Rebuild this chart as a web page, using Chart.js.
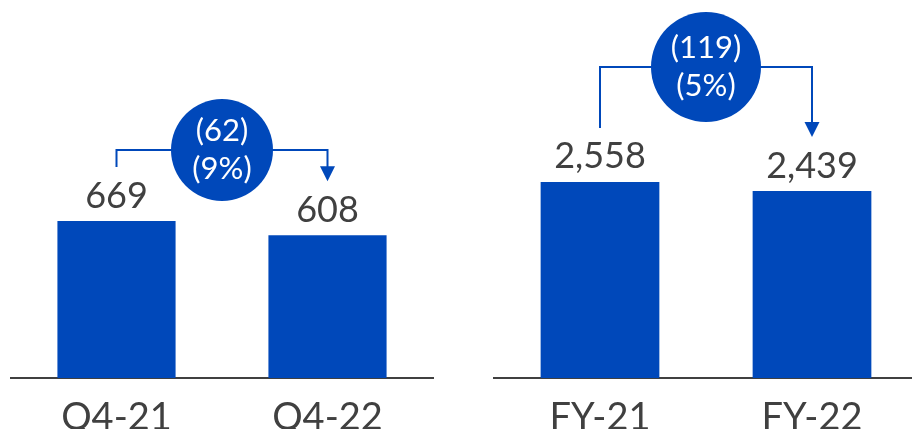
<!DOCTYPE html>
<html>
<head>
<meta charset="utf-8">
<script src="https://cdn.jsdelivr.net/npm/chart.js@4.4.1/dist/chart.umd.min.js"></script>
<style>
  html, body { margin: 0; padding: 0; background: #fff; }
  body { width: 912px; height: 429px; overflow: hidden; position: relative; }
  #quarter { position: absolute; left: 0; top: 0; }
  #year { position: absolute; left: 456px; top: 0; }
</style>
</head>
<body>
<canvas id="quarter" width="456" height="429"></canvas>
<canvas id="year" width="462" height="429"></canvas>
<script>
const quarterLabels = ['Q4-21', 'Q4-22'];
const quarterValues = [669, 608];
const quarterChange = ['(62)', '(9%)'];

const yearLabels = ['FY-21', 'FY-22'];
const yearValues = [2558, 2439];
const yearChange = ['(119)', '(5%)'];

const BLUE = '#0048BA';
const INK = '#404040';
const FONT = 'Lato, "Noto Sans", sans-serif';

// value labels over the bars, plus the bracket / arrow / bubble showing the change
const changeBubble = {
    id: 'changeBubble',
    afterDatasetsDraw(chart, args, opts) {
        const ctx = chart.ctx;
        const bars = chart.getDatasetMeta(0).data;
        const vals = chart.data.datasets[0].data;
        ctx.save();

        ctx.font = '36px ' + FONT;
        ctx.fillStyle = INK;
        ctx.textAlign = 'center';
        ctx.textBaseline = 'alphabetic';
        bars.forEach((b, i) => ctx.fillText(vals[i].toLocaleString('en-US'), b.x, b.y - 13.5));

        const x0 = bars[0].x, x1 = bars[1].x, y = opts.y;
        const start = bars[0].y - 54;
        const tip = bars[1].y - 54;

        ctx.strokeStyle = BLUE;
        ctx.lineWidth = 2;
        ctx.beginPath();
        ctx.moveTo(x0, start);
        ctx.lineTo(x0, y);
        ctx.lineTo(x1, y);
        ctx.lineTo(x1, tip - 14);
        ctx.stroke();

        ctx.fillStyle = BLUE;
        ctx.beginPath();
        ctx.moveTo(x1 - 7.5, tip - 15);
        ctx.lineTo(x1 + 7.5, tip - 15);
        ctx.lineTo(x1, tip);
        ctx.closePath();
        ctx.fill();

        const cx = (x0 + x1) / 2;
        ctx.beginPath();
        ctx.arc(cx, y, opts.r, 0, Math.PI * 2);
        ctx.fill();

        ctx.fillStyle = '#fff';
        ctx.font = '31px ' + FONT;
        ctx.textBaseline = 'middle';
        ctx.fillText(opts.lines[0], cx, y - 19);
        ctx.fillText(opts.lines[1], cx, y + 19);
        ctx.restore();
    }
};

function makeChart(id, labels, values, yMax, padLeft, padRight, bubble) {
    return new Chart(document.getElementById(id), {
        type: 'bar',
        data: {
            labels: labels,
            datasets: [{
                data: values,
                backgroundColor: BLUE,
                categoryPercentage: 1,
                barPercentage: 0.56
            }]
        },
        options: {
            responsive: false,
            animation: false,
            layout: { padding: { left: padLeft, right: padRight, top: 0, bottom: 0 } },
            plugins: {
                legend: { display: false },
                tooltip: { enabled: false },
                changeBubble: bubble
            },
            scales: {
                x: {
                    grid: { display: false, drawTicks: false },
                    border: { display: true, color: INK, width: 2 },
                    ticks: { color: INK, font: { family: FONT, size: 38 }, padding: 17 },
                    afterFit: (s) => { s.height = 51; }
                },
                y: {
                    display: false,
                    min: 0,
                    max: yMax
                }
            }
        },
        plugins: [changeBubble]
    });
}

makeChart('quarter', quarterLabels, quarterValues, 1611, 11, 23,
    { y: 150, r: 51, lines: quarterChange });
makeChart('year', yearLabels, yearValues, 4933, 38, 0,
    { y: 67, r: 55, lines: yearChange });
</script>
</body>
</html>
